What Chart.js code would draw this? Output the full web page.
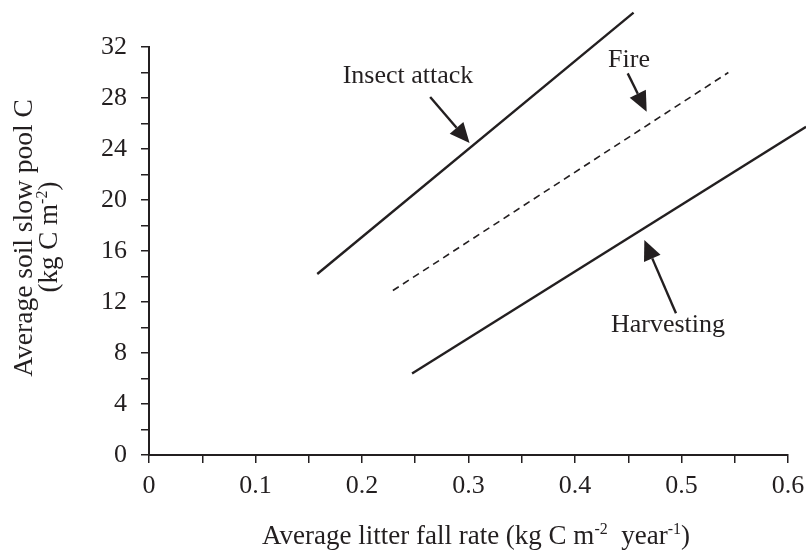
<!DOCTYPE html>
<html>
<head>
<meta charset="utf-8">
<script src="https://cdn.jsdelivr.net/npm/chart.js@4.4.0/dist/chart.umd.min.js"></script>
<style>
  html, body { margin: 0; padding: 0; background: #fff; }
  #wrap { width: 806px; height: 550px; }
</style>
</head>
<body>
<div id="wrap"><canvas id="chart"></canvas></div>
<script>
/* -----------------------------
   Data
------------------------------ */
const insectX = [0.158, 0.455];
const insectY = [14.2, 34.7];
const fireX = [0.229, 0.544];
const fireY = [12.9, 30.0];
const harvestX = [0.247, 0.617];
const harvestY = [6.4, 25.75];

const xTickValues = [0, 0.1, 0.2, 0.3, 0.4, 0.5, 0.6];
const xTickLabels = ['0', '0.1', '0.2', '0.3', '0.4', '0.5', '0.6'];
const yTickValues = [0, 4, 8, 12, 16, 20, 24, 28, 32];
const yTickLabels = ['0', '4', '8', '12', '16', '20', '24', '28', '32'];

const seriesNames = ['Insect attack', 'Fire', 'Harvesting'];

// annotation placement (data units): label baseline centre, arrow tail, arrow tip
const notes = [
  { text: seriesNames[0], at: [0.2432, 29.15], from: [0.264, 28.08], to: [0.301, 24.47] },
  { text: seriesNames[1], at: [0.4507, 30.45], from: [0.4495, 29.93], to: [0.4673, 26.93] },
  { text: seriesNames[2], at: [0.4873, 9.65], from: [0.4948, 11.11], to: [0.4651, 16.86] }
];

const INK = '#231f20';
const FONT = '"Liberation Serif", "Times New Roman", serif';

const toPoints = (xs, ys) => xs.map((x, i) => ({ x, y: ys[i] }));

function pickLabel(values, labels, v) {
  const i = values.findIndex(t => Math.abs(t - v) < 1e-9);
  return i >= 0 ? labels[i] : '';
}

// draw a line of text with superscript pieces, centred on cx
function drawRuns(ctx, runs, cx, y, size) {
  const supSize = Math.round(size * 0.6);
  const widths = runs.map(r => {
    ctx.font = (r.sup ? supSize : size) + 'px ' + FONT;
    return ctx.measureText(r.t).width;
  });
  let x = cx - widths.reduce((a, b) => a + b, 0) / 2;
  ctx.textAlign = 'left';
  ctx.textBaseline = 'alphabetic';
  runs.forEach((r, i) => {
    ctx.font = (r.sup ? supSize : size) + 'px ' + FONT;
    ctx.fillText(r.t, x, r.sup ? y - size * 0.38 : y);
    x += widths[i];
  });
}

/* -----------------------------
   Annotations + axis titles
------------------------------ */
const extrasPlugin = {
  id: 'extras',
  afterDraw(chart) {
    const { ctx, scales: { x, y } } = chart;
    ctx.save();
    ctx.fillStyle = INK;
    ctx.strokeStyle = INK;

    notes.forEach(n => {
      ctx.font = '26px ' + FONT;
      ctx.textAlign = 'center';
      ctx.textBaseline = 'alphabetic';
      ctx.fillText(n.text, x.getPixelForValue(n.at[0]), y.getPixelForValue(n.at[1]));

      const x0 = x.getPixelForValue(n.from[0]), y0 = y.getPixelForValue(n.from[1]);
      const x1 = x.getPixelForValue(n.to[0]), y1 = y.getPixelForValue(n.to[1]);
      const ang = Math.atan2(y1 - y0, x1 - x0);
      const headLen = 20, headHalf = 9;
      const bx = x1 - headLen * Math.cos(ang), by = y1 - headLen * Math.sin(ang);

      ctx.lineWidth = 2.4;
      ctx.beginPath();
      ctx.moveTo(x0, y0);
      ctx.lineTo(bx, by);
      ctx.stroke();

      ctx.beginPath();
      ctx.moveTo(x1, y1);
      ctx.lineTo(bx + headHalf * Math.sin(ang), by - headHalf * Math.cos(ang));
      ctx.lineTo(bx - headHalf * Math.sin(ang), by + headHalf * Math.cos(ang));
      ctx.closePath();
      ctx.fill();
    });

    // x axis title
    drawRuns(ctx, [
      { t: 'Average litter fall rate (kg C m' },
      { t: '-2', sup: true },
      { t: '  year' },
      { t: '-1', sup: true },
      { t: ')' }
    ], 476, 544, 27);

    // y axis title, two rotated lines
    ctx.save();
    ctx.translate(32, 238);
    ctx.rotate(-Math.PI / 2);
    drawRuns(ctx, [{ t: 'Average soil slow pool C' }], 0, 0, 27.5);
    ctx.restore();

    ctx.save();
    ctx.translate(57, 237);
    ctx.rotate(-Math.PI / 2);
    drawRuns(ctx, [{ t: '(kg C m' }, { t: '-2', sup: true }, { t: ')' }], 0, 0, 27);
    ctx.restore();

    ctx.restore();
  }
};

/* -----------------------------
   Chart
------------------------------ */
const lineSet = (label, xs, ys, dash, width) => ({
  label,
  data: toPoints(xs, ys),
  showLine: true,
  borderColor: INK,
  borderWidth: width,
  borderDash: dash,
  pointRadius: 0,
  fill: false,
  clip: false
});

const axisCommon = {
  type: 'linear',
  border: { display: true, color: INK, width: 2 },
  grid: { drawOnChartArea: false, drawTicks: true, tickLength: 8, color: INK, lineWidth: 1.5 }
};

new Chart(document.getElementById('chart'), {
  type: 'scatter',
  data: {
    datasets: [
      lineSet(seriesNames[0], insectX, insectY, [], 2.4),
      lineSet(seriesNames[1], fireX, fireY, [7, 5], 1.6),
      lineSet(seriesNames[2], harvestX, harvestY, [], 2.4)
    ]
  },
  options: {
    responsive: true,
    maintainAspectRatio: false,
    animation: false,
    layout: { padding: { top: 47, right: 18, left: 0, bottom: 0 } },
    plugins: { legend: { display: false }, tooltip: { enabled: false } },
    scales: {
      x: {
        ...axisCommon,
        min: 0,
        max: 0.6,
        afterFit: s => { s.height = 95; s.paddingLeft = 0; s.paddingRight = 0; },
        ticks: {
          stepSize: 0.05,
          autoSkip: false,
          maxRotation: 0,
          padding: 8,
          color: INK,
          font: { family: FONT, size: 26 },
          callback: v => pickLabel(xTickValues, xTickLabels, v)
        }
      },
      y: {
        ...axisCommon,
        min: 0,
        max: 32,
        afterFit: s => { s.width = 149; s.paddingTop = 0; s.paddingBottom = 0; },
        ticks: {
          stepSize: 2,
          autoSkip: false,
          padding: 14,
          color: INK,
          font: { family: FONT, size: 26 },
          callback: v => pickLabel(yTickValues, yTickLabels, v)
        }
      }
    }
  },
  plugins: [extrasPlugin]
});
</script>
</body>
</html>
